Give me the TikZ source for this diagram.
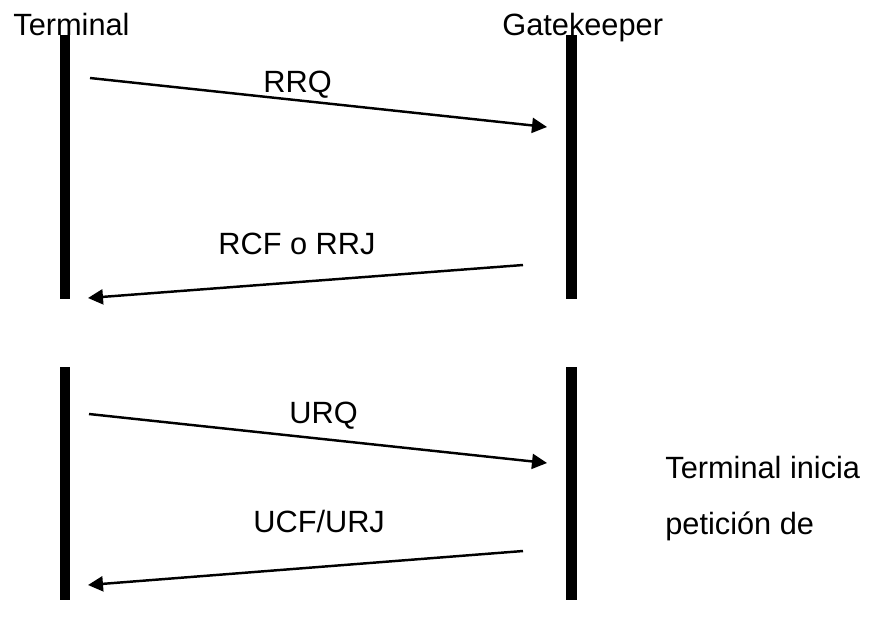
\documentclass[tikz,border=0pt]{standalone}
\usepackage{fontspec}
\setmainfont{Liberation Sans}
\usetikzlibrary{arrows.meta}
\tikzset{
  lifebar/.style={line width=0.22cm},
  msg/.style={line width=1.4pt,-{Triangle[length=0.3cm,width=0.3cm]}},
  lbl/.style={anchor=base west,inner sep=0pt,font=\fontsize{17.5}{20}\selectfont}
}
\begin{document}
\begin{tikzpicture}[x=0.02cm,y=-0.02cm]
        \useasboundingbox (0,0) rectangle (872,627);
        \node[lbl] (term) at (13,35) {Terminal}; %cabecera
        \node[lbl] (gk) at (502,35) {Gatekeeper};
        % barras
        \coordinate (t1a) at (65,35);  \coordinate (t1b) at (65,299);
        \coordinate (g1a) at (571,35); \coordinate (g1b) at (571,299);
        \coordinate (t2a) at (65,367);  \coordinate (t2b) at (65,600);
        \coordinate (g2a) at (571,367); \coordinate (g2b) at (571,600);
        \draw[lifebar] (t1a)--(t1b);
        \draw[lifebar] (g1a)--(g1b);
        \draw[lifebar] (t2a)--(t2b);
        \draw[lifebar] (g2a)--(g2b);
        % registro
        \coordinate (rrqs) at (90,78);   \coordinate (rrqe) at (547,127);
        \coordinate (rcfs) at (523,265); \coordinate (rcfe) at (88,298);
        \draw[msg] (rrqs)--(rrqe);
        \draw[msg] (rcfs)--(rcfe);
        \node[lbl] (rrq) at (263,92) {RRQ};
        \node[lbl] (rcf) at (218,254) {RCF o RRJ};
        % baja
        \coordinate (urqs) at (89,414);  \coordinate (urqe) at (547,463);
        \coordinate (ucfs) at (523,551); \coordinate (ucfe) at (88,585);
        \draw[msg] (urqs)--(urqe);
        \draw[msg] (ucfs)--(ucfe);
        \node[lbl] (urq) at (289,423) {URQ};
        \node[lbl] (ucf) at (253,532) {UCF/URJ};
        \node[lbl] (nota1) at (665,478) {Terminal inicia};
        \node[lbl] (nota2) at (665,534) {petición de};
    \end{tikzpicture}
\end{document}
